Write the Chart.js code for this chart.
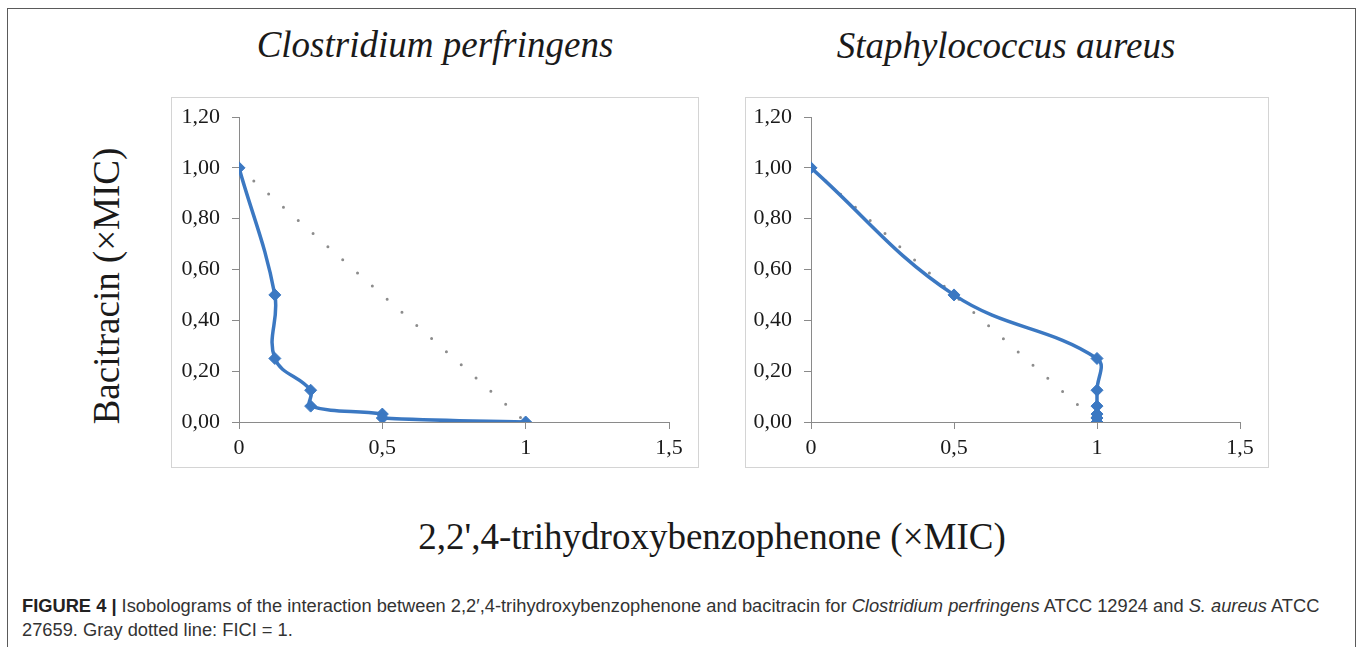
<!DOCTYPE html>
<html>
<head>
<meta charset="utf-8">
<script src="https://cdn.jsdelivr.net/npm/chart.js@4.4.0/dist/chart.umd.min.js"></script>
<style>
    body {
        margin: 0;
        background: #fff;
        width: 1357px;
        height: 647px;
        overflow: hidden;
        position: relative;
        font-family: "Liberation Serif", serif;
        color: #1a1a1a;
    }
    .frame {
        position: absolute;
        left: 7px;
        top: 8px;
        width: 1347px;
        height: 700px;
        border: 1px solid #5a5a5a;
        border-bottom: none;
    }
    .box {
        position: absolute;
        border: 1px solid #d4d4d4;
    }
    .box canvas {
        display: block;
    }
    .label {
        position: absolute;
        white-space: nowrap;
        font-size: 37px;
        line-height: 37px;
        transform: translate(-50%, -50%);
    }
    .title {
        font-style: italic;
    }
    .ytitle {
        transform: translate(-50%, -50%) rotate(-90deg);
    }
    .caption {
        position: absolute;
        left: 22px;
        top: 594px;
        font-family: "Liberation Sans", Arial, sans-serif;
        font-size: 18.3px;
        line-height: 24px;
        color: #333;
        white-space: nowrap;
    }
    .caption b {
        color: #222;
    }
</style>
</head>
<body>
<div class="frame"></div>

<div class="label title" style="left:435px; top:44px;">Clostridium perfringens</div>
<div class="label title" style="left:1006px; top:45px;">Staphylococcus aureus</div>

<div class="box" style="left:171px; top:97px;">
    <canvas id="chartCP" width="526" height="369"></canvas>
</div>
<div class="box" style="left:745px; top:97px;">
    <canvas id="chartSA" width="522" height="369"></canvas>
</div>

<div class="label ytitle" style="left:106px; top:286px;">Bacitracin (×MIC)</div>
<div class="label" style="left:712px; top:536px;">2,2',4-trihydroxybenzophenone (×MIC)</div>

<div class="caption">
    <b>FIGURE 4 |</b> Isobolograms of the interaction between 2,2′,4-trihydroxybenzophenone and bacitracin for <i>Clostridium perfringens</i> ATCC 12924 and <i>S. aureus</i> ATCC<br>
    27659. Gray dotted line: FICI = 1.
</div>

<script>
// Clostridium perfringens isobologram (x: benzophenone, y: bacitracin, both xMIC)
const cpX = [0, 0.125, 0.125, 0.25, 0.25, 0.5, 0.5, 1];
const cpY = [1, 0.5, 0.25, 0.125, 0.0625, 0.03125, 0.015625, 0];
// Staphylococcus aureus isobologram
const saX = [0, 0.5, 1, 1, 1, 1, 1, 1];
const saY = [1, 0.5, 0.25, 0.125, 0.0625, 0.03125, 0.015625, 0];
// FICI = 1 reference line
const ficiX = [0, 1];
const ficiY = [1, 0];
// axis ticks
const xTickValues = [0, 0.5, 1, 1.5];
const xTickLabels = ['0', '0,5', '1', '1,5'];
const yTickValues = [0, 0.2, 0.4, 0.6, 0.8, 1.0, 1.2];
const yTickLabels = ['0,00', '0,20', '0,40', '0,60', '0,80', '1,00', '1,20'];

const blue = '#3b78c2';
const axisGray = '#8a8a8a';
const tickFont = {family: '"Liberation Serif", serif', size: 22};

function toPoints(xs, ys) {
    return xs.map((x, i) => ({x: x, y: ys[i]}));
}

function makeChart(id, xs, ys, yWidth, padRight) {
    let ctx = document.getElementById(id);
    return new Chart(ctx, {
        type: 'scatter',
        data: {
            datasets: [{
                data: toPoints(xs, ys),
                showLine: true,
                tension: 0.4,
                borderColor: blue,
                borderWidth: 3.5,
                backgroundColor: blue,
                pointStyle: 'rectRot',
                pointRadius: 6,
                pointBorderWidth: 1,
                pointBorderColor: blue
            }, {
                data: toPoints(ficiX, ficiY),
                showLine: true,
                borderColor: '#8c8c8c',
                borderWidth: 3,
                borderDash: [0, 19.8],
                borderCapStyle: 'round',
                pointRadius: 0
            }]
        },
        options: {
            responsive: false,
            animation: false,
            layout: {padding: {top: 19, right: padRight, bottom: 0, left: 0}},
            plugins: {legend: {display: false}, tooltip: {enabled: false}},
            scales: {
                x: {
                    type: 'linear',
                    min: 0,
                    max: 1.5,
                    afterBuildTicks: (scale) => { scale.ticks = xTickValues.map(v => ({value: v})); },
                    afterFit: (scale) => { scale.height = 45; scale.paddingLeft = 0; scale.paddingRight = 0; },
                    grid: {drawOnChartArea: false, drawTicks: true, tickLength: 7, color: axisGray},
                    border: {color: axisGray, width: 1},
                    ticks: {
                        font: tickFont,
                        color: '#1a1a1a',
                        padding: 6,
                        maxRotation: 0,
                        callback: (v, i) => xTickLabels[i]
                    }
                },
                y: {
                    type: 'linear',
                    min: 0,
                    max: 1.2,
                    afterBuildTicks: (scale) => { scale.ticks = yTickValues.map(v => ({value: v})); },
                    afterFit: (scale) => { scale.width = yWidth; scale.paddingTop = 0; scale.paddingBottom = 0; },
                    grid: {drawOnChartArea: false, drawTicks: true, tickLength: 7, color: axisGray},
                    border: {color: axisGray, width: 1},
                    ticks: {
                        font: tickFont,
                        color: '#1a1a1a',
                        padding: 12,
                        callback: (v, i) => yTickLabels[i]
                    }
                }
            }
        }
    });
}

makeChart('chartCP', cpX, cpY, 67, 29);
makeChart('chartSA', saX, saY, 65, 28);
</script>
</body>
</html>
